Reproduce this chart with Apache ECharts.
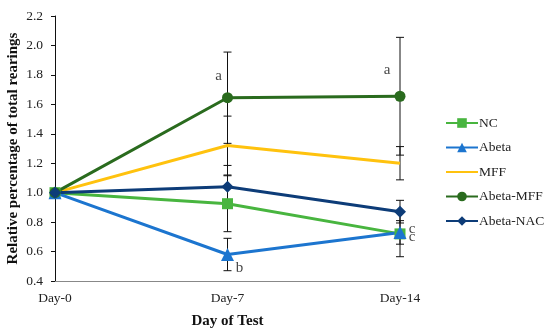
<!DOCTYPE html>
<html>
<head>
<meta charset="utf-8">
<script src="https://cdn.jsdelivr.net/npm/echarts@6/dist/echarts.min.js"></script>
<style>html,body{margin:0;padding:0;background:#fff;}#chart{width:550px;height:333px;}</style>
</head>
<body>
<div id="chart"></div>
<script>
const categories = ['Day-0', 'Day-7', 'Day-14'];
const yTicks = [0.4, 2.2, 0.2]; // min, max, interval
const ncValues = [1.0, 0.925, 0.72];
const abetaValues = [1.0, 0.58, 0.73];
const mffValues = [1.0, 1.32, 1.20];
const abetaMffValues = [1.0, 1.645, 1.655];
const abetaNacValues = [1.0, 1.04, 0.871];
const ncErr = [0, 0.19, 0.155];
const abetaErr = [0, 0.11, 0.08];
const mffErr = [0, 0.2, 0.113];
const abetaMffErr = [0, 0.31, 0.40];
const abetaNacErr = [0, 0.145, 0.077];
const annotTexts = ['a', 'a', 'b', 'c', 'c'];
const annotX = ['Day-7', 'Day-14', 'Day-7', 'Day-14', 'Day-14'];
const annotY = [1.795, 1.83, 0.485, 0.75, 0.70];
const annotDx = [-9, -13, 12, 12, 12];

const FONT = '"Liberation Serif", "Times New Roman", serif';
const colors = {
  NC: '#48B53F', Abeta: '#1C75CF', MFF: '#FFC20E', 'Abeta-MFF': '#2A6B1E', 'Abeta-NAC': '#0D3C78'
};

function errData(vals, errs) {
  return vals.map((v, i) => [i, v - errs[i], v + errs[i]]).filter((d, i) => errs[i] > 0);
}
const allErr = [].concat(
  errData(abetaMffValues, abetaMffErr),
  errData(mffValues, mffErr),
  errData(abetaNacValues, abetaNacErr),
  errData(ncValues, ncErr),
  errData(abetaValues, abetaErr)
);

function lineSeries(name, data, symbol, size) {
  return {
    name: name, type: 'line', data: data, symbol: symbol, symbolSize: size,
    showSymbol: symbol !== 'none',
    lineStyle: { width: 3, color: colors[name] },
    itemStyle: { color: colors[name] },
    z: 3
  };
}

const chart = echarts.init(document.getElementById('chart'));
chart.setOption({
  animation: false,
  textStyle: { fontFamily: FONT },
  grid: { left: 55, right: 150, top: 16, bottom: 52, containLabel: false, outerBoundsMode: 'none' },
  xAxis: {
    type: 'category', data: categories, boundaryGap: false,
    axisLine: { lineStyle: { color: '#888', width: 1 } },
    axisTick: { show: false },
    axisLabel: { color: '#222', fontSize: 13.5, fontFamily: FONT, margin: 10 },
    name: 'Day of Test', nameLocation: 'middle', nameGap: 33, nameMoveOverlap: false,
    nameTextStyle: { color: '#111', fontSize: 15, fontWeight: 'bold', fontFamily: FONT }
  },
  yAxis: {
    type: 'value', min: yTicks[0], max: yTicks[1], interval: yTicks[2],
    axisLine: { show: true, lineStyle: { color: '#111', width: 1 } },
    axisTick: { show: true, inside: false, length: 4, lineStyle: { color: '#111' } },
    splitLine: { show: false },
    axisLabel: { color: '#222', fontSize: 13.5, fontFamily: FONT, margin: 12,
      formatter: v => v.toFixed(1) },
    name: 'Relative percentage of total rearings', nameLocation: 'middle', nameGap: 34,
    nameMoveOverlap: false,
    nameTextStyle: { color: '#111', fontSize: 15, fontWeight: 'bold', fontFamily: FONT }
  },
  legend: {
    orient: 'vertical', left: 440, top: 111, itemGap: 10.5,
    itemWidth: 32, itemHeight: 12,
    textStyle: { color: '#222', fontSize: 13.5, fontFamily: FONT, padding: [0, 0, 0, -4] },
    data: ['NC', 'Abeta', { name: 'MFF', itemStyle: { opacity: 0 } }, 'Abeta-MFF', 'Abeta-NAC']
  },
  series: [
    {
      type: 'custom', name: 'err', data: allErr, z: 2, silent: true,
      renderItem: function (params, api) {
        const x = api.value(0);
        const lo = api.coord([x, api.value(1)]);
        const hi = api.coord([x, api.value(2)]);
        const w = 4;
        const st = { stroke: '#111', lineWidth: 1 };
        return { type: 'group', children: [
          { type: 'line', shape: { x1: lo[0], y1: lo[1], x2: hi[0], y2: hi[1] }, style: st },
          { type: 'line', shape: { x1: lo[0] - w, y1: lo[1], x2: lo[0] + w, y2: lo[1] }, style: st },
          { type: 'line', shape: { x1: hi[0] - w, y1: hi[1], x2: hi[0] + w, y2: hi[1] }, style: st }
        ] };
      }
    },
    lineSeries('NC', ncValues, 'rect', 11),
    lineSeries('Abeta', abetaValues, 'triangle', 13),
    lineSeries('MFF', mffValues, 'none', 0),
    lineSeries('Abeta-MFF', abetaMffValues, 'circle', 11),
    lineSeries('Abeta-NAC', abetaNacValues, 'diamond', 12),
    {
      type: 'scatter', name: 'annot', symbolSize: 0, silent: true, z: 5,
      data: annotTexts.map((t, i) => ({
        value: [annotX[i], annotY[i]],
        label: { show: true, formatter: t, offset: [annotDx[i], 0], position: 'inside',
          color: '#111', fontSize: 15, fontFamily: FONT }
      }))
    }
  ]
});
</script>
</body>
</html>
